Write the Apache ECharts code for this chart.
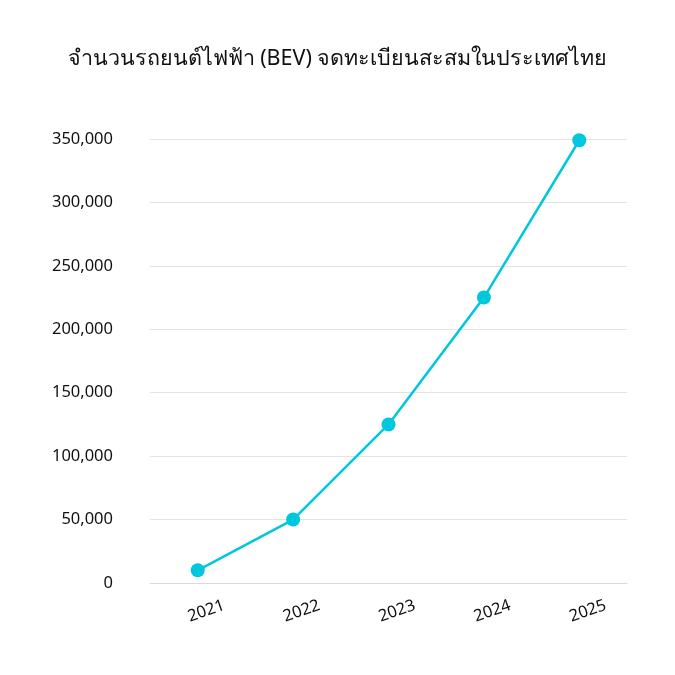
<!DOCTYPE html>
<html><head><meta charset="utf-8">
<script src="https://cdn.jsdelivr.net/npm/echarts@6/dist/echarts.min.js"></script>
<style>html,body{margin:0;padding:0;background:#fff}#c{width:675px;height:675px}</style>
</head><body><div id="c"></div>
<script>
const titleText = 'จำนวนรถยนต์ไฟฟ้า (BEV) จดทะเบียนสะสมในประเทศไทย';
const years = ['2021', '2022', '2023', '2024', '2025'];
const bevCount = [10000, 50000, 125000, 225000, 349000];
const yTicks = [0, 50000, 100000, 150000, 200000, 250000, 300000, 350000];

const font = '"Noto Sans", "Open Sans", sans-serif';
const chart = echarts.init(document.getElementById('c'));
chart.setOption({
  animation: false,
  title: {
    text: titleText, left: 'center', top: 43,
    textStyle: { fontFamily: font, fontSize: 21.5, fontWeight: 'normal', color: '#111' }
  },
  grid: { left: 150, right: 48, top: 139, bottom: 92, containLabel: false },
  xAxis: {
    type: 'category', data: years, boundaryGap: true,
    axisLine: { show: true, lineStyle: { color: '#d9d9d9', width: 1 } },
    axisTick: { show: false },
    axisLabel: { rotate: 19, align: 'center', verticalAlign: 'middle', margin: 31, padding: [0, 0, 0, 18],
      fontFamily: font, fontSize: 16.5, color: '#111' }
  },
  yAxis: {
    type: 'value', min: yTicks[0], max: yTicks[yTicks.length - 1], interval: 50000,
    axisLine: { show: false }, axisTick: { show: false },
    splitLine: { lineStyle: { color: '#e3e3e3', width: 1 } },
    axisLabel: { margin: 37, fontFamily: font, fontSize: 16.5, color: '#111',
      formatter: v => v.toLocaleString('en-US') }
  },
  series: [{
    type: 'line', data: bevCount, symbol: 'circle', symbolSize: 14,
    lineStyle: { color: '#00C8DC', width: 2.5 },
    itemStyle: { color: '#00C8DC' }
  }]
});
</script></body></html>
